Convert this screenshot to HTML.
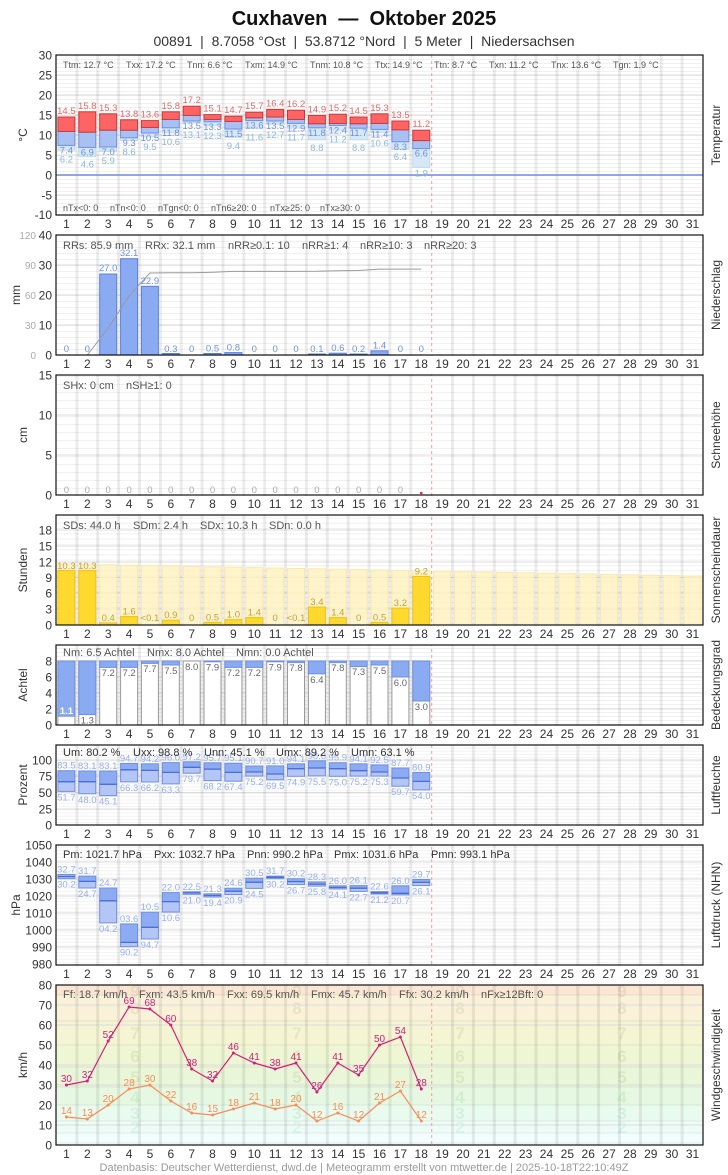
<!DOCTYPE html>
<html><head><meta charset="utf-8">
<style>
body{margin:0;background:#fff;width:728px;height:1175px;position:relative;overflow:hidden;font-family:"Liberation Sans",sans-serif}
svg{position:absolute;left:0;top:0}
.row{position:absolute;left:56px;width:647px;display:grid;grid-template-columns:repeat(31,1fr);text-align:center;font-size:12px;color:#333;line-height:14px}
text{font-family:"Liberation Sans",sans-serif}
.t{font-size:12px;fill:#333}
.tk{font-size:12px;fill:#333;text-anchor:end}
.tk2{font-size:10px;fill:#aaa;text-anchor:end}
.st{font-size:11px;fill:#555}
.st9{font-size:9px;fill:#555}
.v{font-size:9.5px;text-anchor:middle}
.r{fill:#e06a6a}.b{fill:#6f8fe0}.lb{fill:#8ab8e0}.hb{fill:#94aef0}.y{fill:#c0a040}.g{fill:#666}
.bf{font-size:17px;font-weight:bold;text-anchor:middle;fill:rgba(120,140,60,0.13)}
</style></head><body>
<svg width="728" height="1175" viewBox="0 0 728 1175">
<defs>
<pattern id="p4" width="10" height="4" patternUnits="userSpaceOnUse"><rect y="0" width="10" height="1" fill="#f1f1f1"/></pattern>
<pattern id="p6" width="10" height="6" patternUnits="userSpaceOnUse"><rect y="0" width="10" height="1" fill="#f1f1f1"/></pattern>
<pattern id="p8" width="10" height="8" patternUnits="userSpaceOnUse"><rect y="0" width="10" height="1" fill="#f1f1f1"/></pattern>
<pattern id="p5" width="10" height="5.28" patternUnits="userSpaceOnUse"><rect y="0" width="10" height="1" fill="#f1f1f1"/></pattern>
<pattern id="p325" width="10" height="3.25" patternUnits="userSpaceOnUse"><rect y="0" width="10" height="1" fill="#f3f3f3"/></pattern>
<pattern id="p34" width="10" height="3.4" patternUnits="userSpaceOnUse"><rect y="0" width="10" height="1" fill="#f3f3f3"/></pattern>
<clipPath id="cw"><rect x="56" y="985" width="647" height="160"/></clipPath>
</defs>
<!-- titles -->
<text x="364" y="25" text-anchor="middle" xml:space="preserve" style="font-size:20px;font-weight:bold;fill:#111">Cuxhaven  —  Oktober 2025</text>
<text x="364" y="46" text-anchor="middle" style="font-size:14px;fill:#333" xml:space="preserve">00891  |  8.7058 °Ost  |  53.8712 °Nord  |  5 Meter  |  Niedersachsen</text>

<!-- minor grids -->
<rect x="56" y="55" width="647" height="160" fill="url(#p4)" transform="translate(0,3)"/>
<rect x="56" y="235" width="647" height="120" fill="url(#p6)" transform="translate(0,1)"/>
<rect x="56" y="375" width="647" height="120" fill="url(#p8)"/>
<rect x="56" y="515" width="647" height="110" fill="url(#p5)"/>
<rect x="56" y="645" width="647" height="80" fill="url(#p4)"/>
<rect x="56" y="745" width="647" height="80" fill="url(#p325)"/>
<rect x="56" y="845" width="647" height="120" fill="url(#p34)"/>
<!-- wind bands -->
<g clip-path="url(#cw)">
<rect x="56" y="985" width="647" height="10" fill="#fbe6d4"/>
<rect x="56" y="995" width="647" height="26" fill="#faf1d9"/>
<rect x="56" y="1021" width="647" height="24" fill="#f5f5d3"/>
<rect x="56" y="1045" width="647" height="22" fill="#eef6d3"/>
<rect x="56" y="1067" width="647" height="20" fill="#e9f6d8"/>
<rect x="56" y="1087" width="647" height="18" fill="#e6f8e2"/>
<rect x="56" y="1105" width="647" height="16" fill="#e9faef"/>
<rect x="56" y="1121" width="647" height="12" fill="#edfcf7"/>
<rect x="56" y="1133" width="647" height="12" fill="#f3fdfd"/>
<path d="M56 995H703M56 1021H703M56 1045H703M56 1067H703M56 1087H703M56 1105H703M56 1121H703M56 1133H703M56 1143H703" stroke="rgba(0,0,0,0.07)" stroke-width="1"/>
<g class="bf">
<text x="135" y="997">9</text><text x="297" y="997">9</text><text x="460" y="997">9</text><text x="622" y="997">9</text>
<text x="135" y="1014">8</text><text x="297" y="1014">8</text><text x="460" y="1014">8</text><text x="622" y="1014">8</text>
<text x="135" y="1039">7</text><text x="297" y="1039">7</text><text x="460" y="1039">7</text><text x="622" y="1039">7</text>
<text x="135" y="1062">6</text><text x="297" y="1062">6</text><text x="460" y="1062">6</text><text x="622" y="1062">6</text>
<text x="135" y="1083">5</text><text x="297" y="1083">5</text><text x="460" y="1083">5</text><text x="622" y="1083">5</text>
<text x="135" y="1103" style="fill:rgba(80,170,80,0.13)">4</text><text x="297" y="1103" style="fill:rgba(80,170,80,0.13)">4</text><text x="460" y="1103" style="fill:rgba(80,170,80,0.13)">4</text><text x="622" y="1103" style="fill:rgba(80,170,80,0.13)">4</text>
<text x="135" y="1119" style="fill:rgba(80,180,130,0.13)">3</text><text x="297" y="1119" style="fill:rgba(80,180,130,0.13)">3</text><text x="460" y="1119" style="fill:rgba(80,180,130,0.13)">3</text><text x="622" y="1119" style="fill:rgba(80,180,130,0.13)">3</text>
<text x="135" y="1133" style="fill:rgba(80,190,170,0.13)">2</text><text x="297" y="1133" style="fill:rgba(80,190,170,0.13)">2</text><text x="460" y="1133" style="fill:rgba(80,190,170,0.13)">2</text><text x="622" y="1133" style="fill:rgba(80,190,170,0.13)">2</text>
</g>
</g>
<!-- major horizontal grids -->
<path stroke="#dcdcdc" stroke-width="1" d="M56 75H703M56 95H703M56 115H703M56 135H703M56 155H703M56 195H703
M56 265H703M56 295H703M56 325H703
M56 415H703M56 455H703
M56 530H703M56 546H703M56 562H703M56 577.5H703M56 593H703M56 609H703
M56 661H703M56 677H703M56 693H703M56 709H703
M56 760H703M56 776H703M56 792.5H703M56 809H703
M56 862H703M56 879H703M56 896H703M56 913H703M56 930H703M56 947H703
M56 1005H703M56 1025H703M56 1065H703M56 1085H703M56 1125H703"/>
<!-- vertical grid -->
<path stroke="rgba(0,0,0,0.075)" stroke-width="3" d="M76.9 55V1145M97.7 55V1145M118.6 55V1145M139.5 55V1145M160.4 55V1145M181.2 55V1145M202.1 55V1145M223 55V1145M243.8 55V1145M264.7 55V1145M285.6 55V1145M306.4 55V1145M327.3 55V1145M348.2 55V1145M369.1 55V1145M389.9 55V1145M410.8 55V1145M452.5 55V1145M473.4 55V1145M494.3 55V1145M515.1 55V1145M536 55V1145M556.9 55V1145M577.8 55V1145M598.6 55V1145M619.5 55V1145M640.4 55V1145M661.2 55V1145M682.1 55V1145"/>
<path stroke="#f0a0a0" stroke-width="1" stroke-dasharray="3,3" d="M431.7 55V1145"/>
<g fill="#fff">
<rect x="50" y="216" width="660" height="18.5"/><rect x="50" y="356" width="660" height="18.5"/><rect x="50" y="496" width="660" height="18.5"/><rect x="50" y="626" width="660" height="18.5"/><rect x="50" y="726" width="660" height="18.5"/><rect x="50" y="826" width="660" height="18.5"/><rect x="50" y="966" width="660" height="18.5"/>
</g>

<!-- ========== TEMPERATURE ========== -->
<path d="M56 175H703" stroke="#6f8fe0" stroke-width="1.5"/>
<g stroke-width="1">
<g fill="#d6e8f6" stroke="#c0dcf0">
<rect x="57.9" y="145.4" width="17" height="4.8"/><rect x="78.8" y="147.4" width="17" height="9.2"/><rect x="99.7" y="147" width="17" height="4.4"/><rect x="120.6" y="137.8" width="17" height="2.8"/><rect x="141.4" y="133" width="17" height="4"/><rect x="162.3" y="127.8" width="17" height="4.8"/><rect x="183.2" y="121" width="17" height="1.6"/><rect x="204" y="121.8" width="17" height="4"/><rect x="224.9" y="129" width="17" height="8.4"/><rect x="245.8" y="120.6" width="17" height="8"/><rect x="266.7" y="121" width="17" height="3.2"/><rect x="287.5" y="123.4" width="17" height="4.8"/><rect x="308.4" y="127.8" width="17" height="12"/><rect x="329.3" y="125.4" width="17" height="4.8"/><rect x="350.1" y="128.2" width="17" height="11.6"/><rect x="371" y="129.4" width="17" height="3.2"/><rect x="391.9" y="141.8" width="17" height="7.6"/><rect x="412.8" y="148.6" width="17" height="18.8"/>
</g>
<g fill="#a9c0f2" stroke="#6f8fe0">
<rect x="57.9" y="131.4" width="17" height="14"/><rect x="78.8" y="132.2" width="17" height="15.2"/><rect x="99.7" y="130.2" width="17" height="16.8"/><rect x="120.6" y="130.2" width="17" height="7.6"/><rect x="141.4" y="127.4" width="17" height="5.6"/><rect x="162.3" y="119.4" width="17" height="8.4"/><rect x="183.2" y="115.4" width="17" height="5.6"/><rect x="204" y="119.4" width="17" height="2.4"/><rect x="224.9" y="121.4" width="17" height="7.6"/><rect x="245.8" y="117.8" width="17" height="2.8"/><rect x="266.7" y="117" width="17" height="4"/><rect x="287.5" y="119.4" width="17" height="4"/><rect x="308.4" y="123.8" width="17" height="4"/><rect x="329.3" y="123.4" width="17" height="2"/><rect x="350.1" y="123.8" width="17" height="4.4"/><rect x="371" y="123.4" width="17" height="6"/><rect x="391.9" y="129.8" width="17" height="12"/><rect x="412.8" y="140.6" width="17" height="8"/>
</g>
<g fill="#ff6464" stroke="#c83838">
<rect x="57.9" y="117" width="17" height="14.4"/><rect x="78.8" y="111.8" width="17" height="20.4"/><rect x="99.7" y="113.8" width="17" height="16.4"/><rect x="120.6" y="119.8" width="17" height="10.4"/><rect x="141.4" y="120.6" width="17" height="6.8"/><rect x="162.3" y="111.8" width="17" height="7.6"/><rect x="183.2" y="106.2" width="17" height="9.2"/><rect x="204" y="114.6" width="17" height="4.8"/><rect x="224.9" y="116.2" width="17" height="5.2"/><rect x="245.8" y="112.2" width="17" height="5.6"/><rect x="266.7" y="109.4" width="17" height="7.6"/><rect x="287.5" y="110.2" width="17" height="9.2"/><rect x="308.4" y="115.4" width="17" height="8.4"/><rect x="329.3" y="114.2" width="17" height="9.2"/><rect x="350.1" y="117" width="17" height="6.8"/><rect x="371" y="113.8" width="17" height="9.6"/><rect x="391.9" y="121" width="17" height="8.8"/><rect x="412.8" y="130.2" width="17" height="10.4"/>
</g>
</g>
<g class="v r">
<text x="66.4" y="114">14.5</text><text x="87.3" y="108.8">15.8</text><text x="108.2" y="110.8">15.3</text><text x="129.1" y="116.8">13.8</text><text x="149.9" y="117.6">13.6</text><text x="170.8" y="108.8">15.8</text><text x="191.7" y="103.2">17.2</text><text x="212.5" y="111.6">15.1</text><text x="233.4" y="113.2">14.7</text><text x="254.3" y="109.2">15.7</text><text x="275.2" y="106.4">16.4</text><text x="296" y="107.2">16.2</text><text x="316.9" y="112.4">14.9</text><text x="337.8" y="111.2">15.2</text><text x="358.6" y="114">14.5</text><text x="379.5" y="110.8">15.3</text><text x="400.4" y="118">13.5</text><text x="421.3" y="127.2">11.2</text>
</g>
<g class="v b">
<text x="66.4" y="153.4">7.4</text><text x="87.3" y="155.4">6.9</text><text x="108.2" y="155">7.0</text><text x="129.1" y="145.8">9.3</text><text x="149.9" y="141">10.5</text><text x="170.8" y="135.8">11.8</text><text x="191.7" y="129">13.5</text><text x="212.5" y="129.8">13.3</text><text x="233.4" y="137">11.5</text><text x="254.3" y="128.6">13.6</text><text x="275.2" y="129">13.5</text><text x="296" y="131.4">12.9</text><text x="316.9" y="135.8">11.8</text><text x="337.8" y="133.4">12.4</text><text x="358.6" y="136.2">11.7</text><text x="379.5" y="137.4">11.4</text><text x="400.4" y="149.8">8.3</text><text x="421.3" y="156.6">6.6</text>
</g>
<g class="v lb">
<text x="66.4" y="162.4">6.2</text><text x="87.3" y="167.6">4.6</text><text x="108.2" y="164">5.9</text><text x="129.1" y="154.8">8.6</text><text x="149.9" y="150">9.5</text><text x="170.8" y="144.8">10.6</text><text x="191.7" y="138">13.1</text><text x="212.5" y="138.8">12.3</text><text x="233.4" y="149">9.4</text><text x="254.3" y="140.6">11.6</text><text x="275.2" y="138">12.7</text><text x="296" y="140.4">11.7</text><text x="316.9" y="151">8.8</text><text x="337.8" y="142.4">11.2</text><text x="358.6" y="151">8.8</text><text x="379.5" y="146.4">10.6</text><text x="400.4" y="160">6.4</text><text x="421.3" y="176.5">1.9</text>
</g>
<g class="st9">
<text x="63" y="68">Ttm: 12.7 °C</text><text x="126" y="68">Txx: 17.2 °C</text><text x="187" y="68">Tnn: 6.6 °C</text><text x="245" y="68">Txm: 14.9 °C</text><text x="310" y="68">Tnm: 10.8 °C</text><text x="375" y="68">Ttx: 14.9 °C</text><text x="434" y="68">Ttn: 8.7 °C</text><text x="489" y="68">Txn: 11.2 °C</text><text x="551" y="68">Tnx: 13.6 °C</text><text x="613" y="68">Tgn: 1.9 °C</text>
<text x="63" y="211">nTx&lt;0: 0</text><text x="110" y="211">nTn&lt;0: 0</text><text x="158" y="211">nTgn&lt;0: 0</text><text x="211" y="211">nTn6≥20: 0</text><text x="270" y="211">nTx≥25: 0</text><text x="320" y="211">nTx≥30: 0</text>
</g>
<g class="tk">
<text x="52" y="59.5">30</text><text x="52" y="79.5">25</text><text x="52" y="99.5">20</text><text x="52" y="119.5">15</text><text x="52" y="139.5">10</text><text x="52" y="159.5">5</text><text x="52" y="179.5">0</text><text x="52" y="199.5">-5</text><text x="52" y="219">-10</text>
</g>

<!-- ========== PRECIP ========== -->
<g fill="#8aabf2" stroke="#5b7fe0">
<rect x="99.7" y="274" width="17" height="81"/><rect x="120.6" y="258.7" width="17" height="96.3"/><rect x="141.4" y="286.3" width="17" height="68.7"/><rect x="162.3" y="353.5" width="17" height="1.5"/><rect x="204" y="353.5" width="17" height="1.5"/><rect x="224.9" y="352.6" width="17" height="2.4"/><rect x="308.4" y="354" width="17" height="1"/><rect x="329.3" y="353.2" width="17" height="1.8"/><rect x="350.1" y="354" width="17" height="1"/><rect x="371" y="350.8" width="17" height="4.2"/>
</g>
<polyline fill="none" stroke="#9a9a9a" stroke-width="1" points="56,355 87.3,355 108.2,328 129.1,295.9 149.9,273 170.8,272.7 191.7,272.7 212.5,272.2 233.4,271.4 254.3,271.4 275.2,271.4 296,271.4 316.9,271.3 337.8,270.7 358.6,270.5 379.5,269.1 400.4,269.1 421.3,269.1"/>
<g class="v b">
<text x="66.4" y="352">0</text><text x="87.3" y="352">0</text><text x="108.2" y="271">27.0</text><text x="129.1" y="256">32.1</text><text x="149.9" y="284">22.9</text><text x="170.8" y="352">0.3</text><text x="191.7" y="352">0</text><text x="212.5" y="351.5">0.5</text><text x="233.4" y="350.5">0.8</text><text x="254.3" y="352">0</text><text x="275.2" y="352">0</text><text x="296" y="352">0</text><text x="316.9" y="352">0.1</text><text x="337.8" y="351">0.6</text><text x="358.6" y="352">0.2</text><text x="379.5" y="348.5">1.4</text><text x="400.4" y="352">0</text><text x="421.3" y="352">0</text>
</g>
<g class="st">
<text x="63" y="249">RRs: 85.9 mm</text><text x="145" y="249">RRx: 32.1 mm</text><text x="228" y="249">nRR≥0.1: 10</text><text x="302" y="249">nRR≥1: 4</text><text x="360" y="249">nRR≥10: 3</text><text x="424" y="249">nRR≥20: 3</text>
</g>
<g class="tk"><text x="52" y="239.5">40</text><text x="52" y="269.5">30</text><text x="52" y="299.5">20</text><text x="52" y="329.5">10</text><text x="52" y="359.5">0</text></g>
<g class="tk2"><text x="36" y="239">120</text><text x="36" y="269">90</text><text x="36" y="299">60</text><text x="36" y="329">30</text><text x="36" y="359">0</text></g>

<!-- ========== SNOW ========== -->
<g class="v" style="fill:#aaa">
<text x="66.4" y="493">0</text><text x="87.3" y="493">0</text><text x="108.2" y="493">0</text><text x="129.1" y="493">0</text><text x="149.9" y="493">0</text><text x="170.8" y="493">0</text><text x="191.7" y="493">0</text><text x="212.5" y="493">0</text><text x="233.4" y="493">0</text><text x="254.3" y="493">0</text><text x="275.2" y="493">0</text><text x="296" y="493">0</text><text x="316.9" y="493">0</text><text x="337.8" y="493">0</text><text x="358.6" y="493">0</text><text x="379.5" y="493">0</text><text x="400.4" y="493">0</text>
</g>
<circle cx="421.3" cy="493" r="1.3" fill="#e03030"/>
<g class="st"><text x="63" y="389">SHx: 0 cm</text><text x="126" y="389">nSH≥1: 0</text></g>
<g class="tk"><text x="52" y="379.5">15</text><text x="52" y="419.5">10</text><text x="52" y="459.5">5</text><text x="52" y="499.5">0</text></g>

<!-- ========== SUN ========== -->
<g fill="#fff0b8" fill-opacity="0.75" stroke="#fbe8a8">
<rect x="57.9" y="564" width="17" height="61"/><rect x="78.8" y="564.4" width="17" height="60.6"/><rect x="99.7" y="564.8" width="17" height="60.2"/><rect x="120.6" y="565.2" width="17" height="59.8"/><rect x="141.4" y="565.6" width="17" height="59.4"/><rect x="162.3" y="566" width="17" height="59"/><rect x="183.2" y="566.4" width="17" height="58.6"/><rect x="204" y="566.8" width="17" height="58.2"/><rect x="224.9" y="567.2" width="17" height="57.8"/><rect x="245.8" y="567.6" width="17" height="57.4"/><rect x="266.7" y="568" width="17" height="57"/><rect x="287.5" y="568.4" width="17" height="56.6"/><rect x="308.4" y="568.8" width="17" height="56.2"/><rect x="329.3" y="569.2" width="17" height="55.8"/><rect x="350.1" y="569.6" width="17" height="55.4"/><rect x="371" y="570" width="17" height="55"/><rect x="391.9" y="570.4" width="17" height="54.6"/><rect x="412.8" y="570.8" width="17" height="54.2"/><rect x="433.6" y="571.2" width="17" height="53.8"/><rect x="454.5" y="571.6" width="17" height="53.4"/><rect x="475.4" y="572" width="17" height="53"/><rect x="496.2" y="572.4" width="17" height="52.6"/><rect x="517.1" y="572.8" width="17" height="52.2"/><rect x="538" y="573.2" width="17" height="51.8"/><rect x="558.9" y="573.6" width="17" height="51.4"/><rect x="579.7" y="574" width="17" height="51"/><rect x="600.6" y="574.4" width="17" height="50.6"/><rect x="621.5" y="574.8" width="17" height="50.2"/><rect x="642.3" y="575.2" width="17" height="49.8"/><rect x="663.2" y="575.6" width="17" height="49.4"/><rect x="684.1" y="576" width="17" height="49"/>
</g>
<g fill="#ffd92e" stroke="#f0c010">
<rect x="57.9" y="570.6" width="17" height="54.4"/><rect x="78.8" y="570.6" width="17" height="54.4"/><rect x="99.7" y="622.9" width="17" height="2.1"/><rect x="120.6" y="616.6" width="17" height="8.4"/><rect x="162.3" y="620.2" width="17" height="4.8"/><rect x="204" y="622.4" width="17" height="2.6"/><rect x="224.9" y="619.7" width="17" height="5.3"/><rect x="245.8" y="617.6" width="17" height="7.4"/><rect x="308.4" y="607" width="17" height="18"/><rect x="329.3" y="617.6" width="17" height="7.4"/><rect x="371" y="622.4" width="17" height="2.6"/><rect x="391.9" y="608.1" width="17" height="16.9"/><rect x="412.8" y="576.4" width="17" height="48.6"/>
</g>
<g class="v y">
<text x="66.4" y="569">10.3</text><text x="87.3" y="569">10.3</text><text x="108.2" y="621">0.4</text><text x="129.1" y="614.5">1.6</text><text x="149.9" y="621">&lt;0.1</text><text x="170.8" y="618">0.9</text><text x="191.7" y="621">0</text><text x="212.5" y="620.5">0.5</text><text x="233.4" y="617.5">1.0</text><text x="254.3" y="615.5">1.4</text><text x="275.2" y="621">0</text><text x="296" y="621">&lt;0.1</text><text x="316.9" y="605">3.4</text><text x="337.8" y="615.5">1.4</text><text x="358.6" y="621">0</text><text x="379.5" y="620.5">0.5</text><text x="400.4" y="606">3.2</text><text x="421.3" y="574.5">9.2</text>
</g>
<g class="st"><text x="63" y="529">SDs: 44.0 h</text><text x="133" y="529">SDm: 2.4 h</text><text x="200" y="529">SDx: 10.3 h</text><text x="269" y="529">SDn: 0.0 h</text></g>
<g class="tk"><text x="52" y="534.5">18</text><text x="52" y="550.5">15</text><text x="52" y="566.5">12</text><text x="52" y="582">9</text><text x="52" y="597.5">6</text><text x="52" y="613.5">3</text><text x="52" y="629.5">0</text></g>

<!-- ========== CLOUD ========== -->
<g fill="#fff" stroke="#999">
<rect x="57.9" y="661" width="17" height="64"/><rect x="78.8" y="661" width="17" height="64"/><rect x="99.7" y="661" width="17" height="64"/><rect x="120.6" y="661" width="17" height="64"/><rect x="141.4" y="661" width="17" height="64"/><rect x="162.3" y="661" width="17" height="64"/><rect x="183.2" y="661" width="17" height="64"/><rect x="204" y="661" width="17" height="64"/><rect x="224.9" y="661" width="17" height="64"/><rect x="245.8" y="661" width="17" height="64"/><rect x="266.7" y="661" width="17" height="64"/><rect x="287.5" y="661" width="17" height="64"/><rect x="308.4" y="661" width="17" height="64"/><rect x="329.3" y="661" width="17" height="64"/><rect x="350.1" y="661" width="17" height="64"/><rect x="371" y="661" width="17" height="64"/><rect x="391.9" y="661" width="17" height="64"/><rect x="412.8" y="661" width="17" height="64"/>
</g>
<g fill="#8aabf2" stroke="#6f8fe0">
<rect x="57.9" y="661" width="17" height="55.2"/><rect x="78.8" y="661" width="17" height="53.6"/><rect x="99.7" y="661" width="17" height="6.4"/><rect x="120.6" y="661" width="17" height="6.4"/><rect x="141.4" y="661" width="17" height="2.4"/><rect x="162.3" y="661" width="17" height="4"/><rect x="204" y="661" width="17" height="0.8"/><rect x="224.9" y="661" width="17" height="6.4"/><rect x="245.8" y="661" width="17" height="6.4"/><rect x="266.7" y="661" width="17" height="0.8"/><rect x="287.5" y="661" width="17" height="1.6"/><rect x="308.4" y="661" width="17" height="12.8"/><rect x="329.3" y="661" width="17" height="1.6"/><rect x="350.1" y="661" width="17" height="5.6"/><rect x="371" y="661" width="17" height="4"/><rect x="391.9" y="661" width="17" height="16"/><rect x="412.8" y="661" width="17" height="40"/>
</g>
<g class="v g">
<text x="66.4" y="714" style="fill:#fff;font-weight:bold">1.1</text><text x="87.3" y="723.5">1.3</text><text x="108.2" y="676">7.2</text><text x="129.1" y="676">7.2</text><text x="149.9" y="672">7.7</text><text x="170.8" y="674">7.5</text><text x="191.7" y="670">8.0</text><text x="212.5" y="670.5">7.9</text><text x="233.4" y="676">7.2</text><text x="254.3" y="676">7.2</text><text x="275.2" y="670.5">7.9</text><text x="296" y="671">7.8</text><text x="316.9" y="683">6.4</text><text x="337.8" y="671">7.8</text><text x="358.6" y="675">7.3</text><text x="379.5" y="674">7.5</text><text x="400.4" y="686">6.0</text><text x="421.3" y="710">3.0</text>
</g>
<g class="st"><text x="63" y="656">Nm: 6.5 Achtel</text><text x="147" y="656">Nmx: 8.0 Achtel</text><text x="236" y="656">Nmn: 0.0 Achtel</text></g>
<g class="tk"><text x="52" y="665.5">8</text><text x="52" y="681.5">6</text><text x="52" y="697.5">4</text><text x="52" y="713.5">2</text><text x="52" y="729.5">0</text></g>

<!-- ========== HUMIDITY ========== -->
<g stroke="#6f8fe0" stroke-width="1">
<g fill="#b3c6f6">
<rect x="57.9" y="781.7" width="17" height="9.7"/><rect x="78.8" y="781.7" width="17" height="12.1"/><rect x="99.7" y="784.3" width="17" height="11.4"/><rect x="120.6" y="769.8" width="17" height="12.1"/><rect x="141.4" y="770.4" width="17" height="11.6"/><rect x="162.3" y="772.4" width="17" height="11.5"/><rect x="183.2" y="767.3" width="17" height="5.9"/><rect x="204" y="769.1" width="17" height="11.6"/><rect x="224.9" y="772.4" width="17" height="8.8"/><rect x="245.8" y="772" width="17" height="4.1"/><rect x="266.7" y="774" width="17" height="5.8"/><rect x="287.5" y="768.7" width="17" height="7.6"/><rect x="308.4" y="768" width="17" height="7.9"/><rect x="329.3" y="768.7" width="17" height="7.6"/><rect x="350.1" y="770.7" width="17" height="5.4"/><rect x="371" y="772" width="17" height="4.1"/><rect x="391.9" y="778" width="17" height="8.2"/><rect x="412.8" y="781.4" width="17" height="8.5"/>
</g>
<g fill="#8dabf2">
<rect x="57.9" y="770.7" width="17" height="11"/><rect x="78.8" y="771" width="17" height="10.7"/><rect x="99.7" y="771" width="17" height="13.3"/><rect x="120.6" y="763.4" width="17" height="6.4"/><rect x="141.4" y="763.8" width="17" height="6.6"/><rect x="162.3" y="762.6" width="17" height="9.8"/><rect x="183.2" y="761.8" width="17" height="5.5"/><rect x="204" y="762.8" width="17" height="6.3"/><rect x="224.9" y="763.2" width="17" height="9.2"/><rect x="245.8" y="766" width="17" height="6"/><rect x="266.7" y="765.9" width="17" height="8.1"/><rect x="287.5" y="763.8" width="17" height="4.9"/><rect x="308.4" y="760.8" width="17" height="7.2"/><rect x="329.3" y="762.7" width="17" height="6"/><rect x="350.1" y="763.8" width="17" height="6.9"/><rect x="371" y="764.9" width="17" height="7.1"/><rect x="391.9" y="768" width="17" height="10"/><rect x="412.8" y="772.4" width="17" height="9"/>
</g>
<path stroke="#4a6fd8" stroke-width="1.3" d="M57.9 781.7h17M78.8 781.7h17M99.7 784.3h17M120.6 769.8h17M141.4 770.4h17M162.3 772.4h17M183.2 767.3h17M204 769.1h17M224.9 772.4h17M245.8 772h17M266.7 774h17M287.5 768.7h17M308.4 768h17M329.3 768.7h17M350.1 770.7h17M371 772h17M391.9 778h17M412.8 781.4h17"/>
</g>
<g class="v hb">
<text x="66.4" y="768.7">83.5</text><text x="87.3" y="769">83.1</text><text x="108.2" y="769">83.1</text><text x="129.1" y="761.4">94.7</text><text x="149.9" y="761.8">94.2</text><text x="170.8" y="760.6">96.0</text><text x="191.7" y="759.8">97.2</text><text x="212.5" y="760.8">95.7</text><text x="233.4" y="761.2">95.1</text><text x="254.3" y="764">90.7</text><text x="275.2" y="763.9">91.0</text><text x="296" y="761.8">94.1</text><text x="316.9" y="758.8">98.8</text><text x="337.8" y="760.7">95.9</text><text x="358.6" y="761.8">94.1</text><text x="379.5" y="762.9">92.5</text><text x="400.4" y="766">87.7</text><text x="421.3" y="770.4">80.9</text>
<text x="66.4" y="800.4">51.7</text><text x="87.3" y="802.8">48.0</text><text x="108.2" y="804.7">45.1</text><text x="129.1" y="790.9">66.3</text><text x="149.9" y="791">66.2</text><text x="170.8" y="792.9">63.3</text><text x="191.7" y="782.2">79.7</text><text x="212.5" y="789.7">68.2</text><text x="233.4" y="790.2">67.4</text><text x="254.3" y="785.1">75.2</text><text x="275.2" y="788.8">69.5</text><text x="296" y="785.3">74.9</text><text x="316.9" y="784.9">75.5</text><text x="337.8" y="785.3">75.0</text><text x="358.6" y="785.1">75.2</text><text x="379.5" y="785.1">75.3</text><text x="400.4" y="795.2">59.7</text><text x="421.3" y="798.9">54.0</text>
</g>
<g class="st" style="fill:#333"><text x="63" y="756">Um: 80.2 %</text><text x="133" y="756">Uxx: 98.8 %</text><text x="204" y="756">Unn: 45.1 %</text><text x="276" y="756">Umx: 89.2 %</text><text x="351" y="756">Umn: 63.1 %</text></g>
<g class="tk"><text x="52" y="764.5">100</text><text x="52" y="780.5">75</text><text x="52" y="797">50</text><text x="52" y="813.5">25</text><text x="52" y="829.5">0</text></g>

<!-- ========== PRESSURE ========== -->
<g stroke="#6f8fe0" stroke-width="1">
<g fill="#b3c6f6">
<rect x="57.9" y="876.6" width="17" height="2.1"/><rect x="78.8" y="881.4" width="17" height="6.6"/><rect x="99.7" y="900.8" width="17" height="22.1"/><rect x="120.6" y="942.4" width="17" height="4.3"/><rect x="141.4" y="927.3" width="17" height="11.7"/><rect x="162.3" y="901.6" width="17" height="10.4"/><rect x="183.2" y="892.9" width="17" height="1.4"/><rect x="204" y="895.5" width="17" height="1.5"/><rect x="224.9" y="891.2" width="17" height="3.3"/><rect x="245.8" y="882.2" width="17" height="6.2"/><rect x="266.7" y="877.3" width="17" height="1.4"/><rect x="287.5" y="881.6" width="17" height="3"/><rect x="308.4" y="884.1" width="17" height="2"/><rect x="329.3" y="887.5" width="17" height="1.5"/><rect x="350.1" y="888.2" width="17" height="3.2"/><rect x="371" y="892.8" width="17" height="1.2"/><rect x="391.9" y="893.3" width="17" height="1.5"/><rect x="412.8" y="882.4" width="17" height="3.2"/>
</g>
<g fill="#8dabf2">
<rect x="57.9" y="874.4" width="17" height="2.2"/><rect x="78.8" y="876.1" width="17" height="5.3"/><rect x="99.7" y="888" width="17" height="12.8"/><rect x="120.6" y="923.9" width="17" height="18.5"/><rect x="141.4" y="912.2" width="17" height="15.1"/><rect x="162.3" y="892.6" width="17" height="9"/><rect x="183.2" y="891.8" width="17" height="1.1"/><rect x="204" y="893.8" width="17" height="1.7"/><rect x="224.9" y="888.2" width="17" height="3"/><rect x="245.8" y="878.2" width="17" height="4"/><rect x="266.7" y="876.1" width="17" height="1.2"/><rect x="287.5" y="878.7" width="17" height="2.9"/><rect x="308.4" y="881.9" width="17" height="2.2"/><rect x="329.3" y="885.8" width="17" height="1.7"/><rect x="350.1" y="885.6" width="17" height="2.6"/><rect x="371" y="891.6" width="17" height="1.2"/><rect x="391.9" y="885.8" width="17" height="7.5"/><rect x="412.8" y="879.5" width="17" height="2.9"/>
</g>
<path stroke="#4a6fd8" stroke-width="1.3" d="M57.9 876.6h17M78.8 881.4h17M99.7 900.8h17M120.6 942.4h17M141.4 927.3h17M162.3 901.6h17M183.2 892.9h17M204 895.5h17M224.9 891.2h17M245.8 882.2h17M266.7 877.3h17M287.5 881.6h17M308.4 884.1h17M329.3 887.5h17M350.1 888.2h17M371 892.8h17M391.9 893.3h17M412.8 882.4h17"/>
</g>
<g class="v hb">
<text x="66.4" y="872.4">32.7</text><text x="87.3" y="874.1">31.7</text><text x="108.2" y="886">24.7</text><text x="129.1" y="921.9">03.6</text><text x="149.9" y="910.2">10.5</text><text x="170.8" y="890.6">22.0</text><text x="191.7" y="889.8">22.5</text><text x="212.5" y="891.8">21.3</text><text x="233.4" y="886.2">24.6</text><text x="254.3" y="876.2">30.5</text><text x="275.2" y="874.1">31.7</text><text x="296" y="876.7">30.2</text><text x="316.9" y="879.9">28.3</text><text x="337.8" y="883.8">26.0</text><text x="358.6" y="883.6">26.1</text><text x="379.5" y="889.6">22.6</text><text x="400.4" y="883.8">26.0</text><text x="421.3" y="877.5">29.7</text>
<text x="66.4" y="887.7">30.2</text><text x="87.3" y="897">24.7</text><text x="108.2" y="931.9">04.2</text><text x="129.1" y="955.7">90.2</text><text x="149.9" y="948">94.7</text><text x="170.8" y="921">10.6</text><text x="191.7" y="903.3">21.0</text><text x="212.5" y="906">19.4</text><text x="233.4" y="903.5">20.9</text><text x="254.3" y="897.4">24.5</text><text x="275.2" y="887.7">30.2</text><text x="296" y="893.6">26.7</text><text x="316.9" y="895.1">25.8</text><text x="337.8" y="898">24.1</text><text x="358.6" y="900.4">22.7</text><text x="379.5" y="903">21.2</text><text x="400.4" y="903.8">20.7</text><text x="421.3" y="894.6">26.1</text>
</g>
<g class="st" style="fill:#333"><text x="63" y="858">Pm: 1021.7 hPa</text><text x="154" y="858">Pxx: 1032.7 hPa</text><text x="247" y="858">Pnn: 990.2 hPa</text><text x="334" y="858">Pmx: 1031.6 hPa</text><text x="431" y="858">Pmn: 993.1 hPa</text></g>
<g class="tk"><text x="52" y="849.5">1050</text><text x="52" y="866.5">1040</text><text x="52" y="883.5">1030</text><text x="52" y="900.5">1020</text><text x="52" y="917.5">1010</text><text x="52" y="934.5">1000</text><text x="52" y="951.5">990</text><text x="52" y="968.5">980</text></g>

<!-- ========== WIND ========== -->
<polyline fill="none" stroke="#f98c55" stroke-width="1.2" points="66.4,1117 87.3,1119 108.2,1105 129.1,1089 149.9,1085 170.8,1101 191.7,1113 212.5,1115 233.4,1109 254.3,1103 275.2,1109 296,1105 316.9,1121 337.8,1113 358.6,1121 379.5,1103 400.4,1091 421.3,1121"/>
<polyline fill="none" stroke="#d0207a" stroke-width="1.2" points="66.4,1085 87.3,1081 108.2,1041 129.1,1007 149.9,1009 170.8,1025 191.7,1069 212.5,1081 233.4,1053 254.3,1063 275.2,1069 296,1063 316.9,1092 337.8,1063 358.6,1075 379.5,1045 400.4,1037 421.3,1089"/>
<g fill="#f98c55"><circle cx="66.4" cy="1117" r="1.5"/><circle cx="87.3" cy="1119" r="1.5"/><circle cx="108.2" cy="1105" r="1.5"/><circle cx="129.1" cy="1089" r="1.5"/><circle cx="149.9" cy="1085" r="1.5"/><circle cx="170.8" cy="1101" r="1.5"/><circle cx="191.7" cy="1113" r="1.5"/><circle cx="212.5" cy="1115" r="1.5"/><circle cx="233.4" cy="1109" r="1.5"/><circle cx="254.3" cy="1103" r="1.5"/><circle cx="275.2" cy="1109" r="1.5"/><circle cx="296" cy="1105" r="1.5"/><circle cx="316.9" cy="1121" r="1.5"/><circle cx="337.8" cy="1113" r="1.5"/><circle cx="358.6" cy="1121" r="1.5"/><circle cx="379.5" cy="1103" r="1.5"/><circle cx="400.4" cy="1091" r="1.5"/><circle cx="421.3" cy="1121" r="1.5"/></g>
<g fill="#d0207a"><circle cx="66.4" cy="1085" r="1.5"/><circle cx="87.3" cy="1081" r="1.5"/><circle cx="108.2" cy="1041" r="1.5"/><circle cx="129.1" cy="1007" r="1.5"/><circle cx="149.9" cy="1009" r="1.5"/><circle cx="170.8" cy="1025" r="1.5"/><circle cx="191.7" cy="1069" r="1.5"/><circle cx="212.5" cy="1081" r="1.5"/><circle cx="233.4" cy="1053" r="1.5"/><circle cx="254.3" cy="1063" r="1.5"/><circle cx="275.2" cy="1069" r="1.5"/><circle cx="296" cy="1063" r="1.5"/><circle cx="316.9" cy="1092" r="1.5"/><circle cx="337.8" cy="1063" r="1.5"/><circle cx="358.6" cy="1075" r="1.5"/><circle cx="379.5" cy="1045" r="1.5"/><circle cx="400.4" cy="1037" r="1.5"/><circle cx="421.3" cy="1089" r="1.5"/></g>
<g class="v" style="fill:#f98c55;font-size:10px">
<text x="66.4" y="1114">14</text><text x="87.3" y="1116">13</text><text x="108.2" y="1102">20</text><text x="129.1" y="1086">28</text><text x="149.9" y="1082">30</text><text x="170.8" y="1098">22</text><text x="191.7" y="1110">16</text><text x="212.5" y="1112">15</text><text x="233.4" y="1106">18</text><text x="254.3" y="1100">21</text><text x="275.2" y="1106">18</text><text x="296" y="1102">20</text><text x="316.9" y="1118">12</text><text x="337.8" y="1110">16</text><text x="358.6" y="1118">12</text><text x="379.5" y="1100">21</text><text x="400.4" y="1088">27</text><text x="421.3" y="1118">12</text>
</g>
<g class="v" style="fill:#d0207a;font-size:10px">
<text x="66.4" y="1082">30</text><text x="87.3" y="1078">32</text><text x="108.2" y="1038">52</text><text x="129.1" y="1004">69</text><text x="149.9" y="1006">68</text><text x="170.8" y="1022">60</text><text x="191.7" y="1066">38</text><text x="212.5" y="1078">32</text><text x="233.4" y="1050">46</text><text x="254.3" y="1060">41</text><text x="275.2" y="1066">38</text><text x="296" y="1060">41</text><text x="316.9" y="1089">26</text><text x="337.8" y="1060">41</text><text x="358.6" y="1072">35</text><text x="379.5" y="1042">50</text><text x="400.4" y="1034">54</text><text x="421.3" y="1086">28</text>
</g>
<g class="st"><text x="63" y="998">Ff: 18.7 km/h</text><text x="139" y="998">Fxm: 43.5 km/h</text><text x="227" y="998">Fxx: 69.5 km/h</text><text x="311" y="998">Fmx: 45.7 km/h</text><text x="399" y="998">Ffx: 30.2 km/h</text><text x="481" y="998">nFx≥12Bft: 0</text></g>
<g class="tk"><text x="52" y="989.5">80</text><text x="52" y="1009.5">70</text><text x="52" y="1029.5">60</text><text x="52" y="1049.5">50</text><text x="52" y="1069.5">40</text><text x="52" y="1089.5">30</text><text x="52" y="1109.5">20</text><text x="52" y="1129.5">10</text><text x="52" y="1149.5">0</text></g>

<!-- panel frames -->
<g fill="none" stroke="#111" stroke-width="1.2">
<rect x="56" y="55" width="647" height="160"/><rect x="56" y="235" width="647" height="120"/><rect x="56" y="375" width="647" height="120"/><rect x="56" y="515" width="647" height="110"/><rect x="56" y="645" width="647" height="80"/><rect x="56" y="745" width="647" height="80"/><rect x="56" y="845" width="647" height="120"/><rect x="56" y="985" width="647" height="160"/>
</g>

<!-- axis titles -->
<g class="t" text-anchor="middle">
<text transform="translate(27,135) rotate(-90)">°C</text>
<text transform="translate(20,295) rotate(-90)">mm</text>
<text transform="translate(27,435) rotate(-90)">cm</text>
<text transform="translate(27,570) rotate(-90)">Stunden</text>
<text transform="translate(27,685) rotate(-90)">Achtel</text>
<text transform="translate(27,785) rotate(-90)">Prozent</text>
<text transform="translate(20,905) rotate(-90)">hPa</text>
<text transform="translate(27,1065) rotate(-90)">km/h</text>
<text transform="translate(720,135) rotate(-90)">Temperatur</text>
<text transform="translate(720,295) rotate(-90)">Niederschlag</text>
<text transform="translate(720,435) rotate(-90)">Schneehöhe</text>
<text transform="translate(720,570) rotate(-90)">Sonnenscheindauer</text>
<text transform="translate(720,685) rotate(-90)">Bedeckungsgrad</text>
<text transform="translate(720,785) rotate(-90)">Luftfeuchte</text>
<text transform="translate(720,905) rotate(-90)">Luftdruck (NHN)</text>
<text transform="translate(720,1065) rotate(-90)">Windgeschwindigkeit</text>
</g>
<text x="364" y="1171" text-anchor="middle" style="font-size:11px;fill:#999">Datenbasis: Deutscher Wetterdienst, dwd.de | Meteogramm erstellt von mtwetter.de | 2025-10-18T22:10:49Z</text>
</svg>

<div class="row" style="top:217px"><span>1</span><span>2</span><span>3</span><span>4</span><span>5</span><span>6</span><span>7</span><span>8</span><span>9</span><span>10</span><span>11</span><span>12</span><span>13</span><span>14</span><span>15</span><span>16</span><span>17</span><span>18</span><span>19</span><span>20</span><span>21</span><span>22</span><span>23</span><span>24</span><span>25</span><span>26</span><span>27</span><span>28</span><span>29</span><span>30</span><span>31</span></div>
<div class="row" style="top:357px"><span>1</span><span>2</span><span>3</span><span>4</span><span>5</span><span>6</span><span>7</span><span>8</span><span>9</span><span>10</span><span>11</span><span>12</span><span>13</span><span>14</span><span>15</span><span>16</span><span>17</span><span>18</span><span>19</span><span>20</span><span>21</span><span>22</span><span>23</span><span>24</span><span>25</span><span>26</span><span>27</span><span>28</span><span>29</span><span>30</span><span>31</span></div>
<div class="row" style="top:497px"><span>1</span><span>2</span><span>3</span><span>4</span><span>5</span><span>6</span><span>7</span><span>8</span><span>9</span><span>10</span><span>11</span><span>12</span><span>13</span><span>14</span><span>15</span><span>16</span><span>17</span><span>18</span><span>19</span><span>20</span><span>21</span><span>22</span><span>23</span><span>24</span><span>25</span><span>26</span><span>27</span><span>28</span><span>29</span><span>30</span><span>31</span></div>
<div class="row" style="top:627px"><span>1</span><span>2</span><span>3</span><span>4</span><span>5</span><span>6</span><span>7</span><span>8</span><span>9</span><span>10</span><span>11</span><span>12</span><span>13</span><span>14</span><span>15</span><span>16</span><span>17</span><span>18</span><span>19</span><span>20</span><span>21</span><span>22</span><span>23</span><span>24</span><span>25</span><span>26</span><span>27</span><span>28</span><span>29</span><span>30</span><span>31</span></div>
<div class="row" style="top:727px"><span>1</span><span>2</span><span>3</span><span>4</span><span>5</span><span>6</span><span>7</span><span>8</span><span>9</span><span>10</span><span>11</span><span>12</span><span>13</span><span>14</span><span>15</span><span>16</span><span>17</span><span>18</span><span>19</span><span>20</span><span>21</span><span>22</span><span>23</span><span>24</span><span>25</span><span>26</span><span>27</span><span>28</span><span>29</span><span>30</span><span>31</span></div>
<div class="row" style="top:827px"><span>1</span><span>2</span><span>3</span><span>4</span><span>5</span><span>6</span><span>7</span><span>8</span><span>9</span><span>10</span><span>11</span><span>12</span><span>13</span><span>14</span><span>15</span><span>16</span><span>17</span><span>18</span><span>19</span><span>20</span><span>21</span><span>22</span><span>23</span><span>24</span><span>25</span><span>26</span><span>27</span><span>28</span><span>29</span><span>30</span><span>31</span></div>
<div class="row" style="top:967px"><span>1</span><span>2</span><span>3</span><span>4</span><span>5</span><span>6</span><span>7</span><span>8</span><span>9</span><span>10</span><span>11</span><span>12</span><span>13</span><span>14</span><span>15</span><span>16</span><span>17</span><span>18</span><span>19</span><span>20</span><span>21</span><span>22</span><span>23</span><span>24</span><span>25</span><span>26</span><span>27</span><span>28</span><span>29</span><span>30</span><span>31</span></div>
<div class="row" style="top:1147px"><span>1</span><span>2</span><span>3</span><span>4</span><span>5</span><span>6</span><span>7</span><span>8</span><span>9</span><span>10</span><span>11</span><span>12</span><span>13</span><span>14</span><span>15</span><span>16</span><span>17</span><span>18</span><span>19</span><span>20</span><span>21</span><span>22</span><span>23</span><span>24</span><span>25</span><span>26</span><span>27</span><span>28</span><span>29</span><span>30</span><span>31</span></div>
</body></html>
